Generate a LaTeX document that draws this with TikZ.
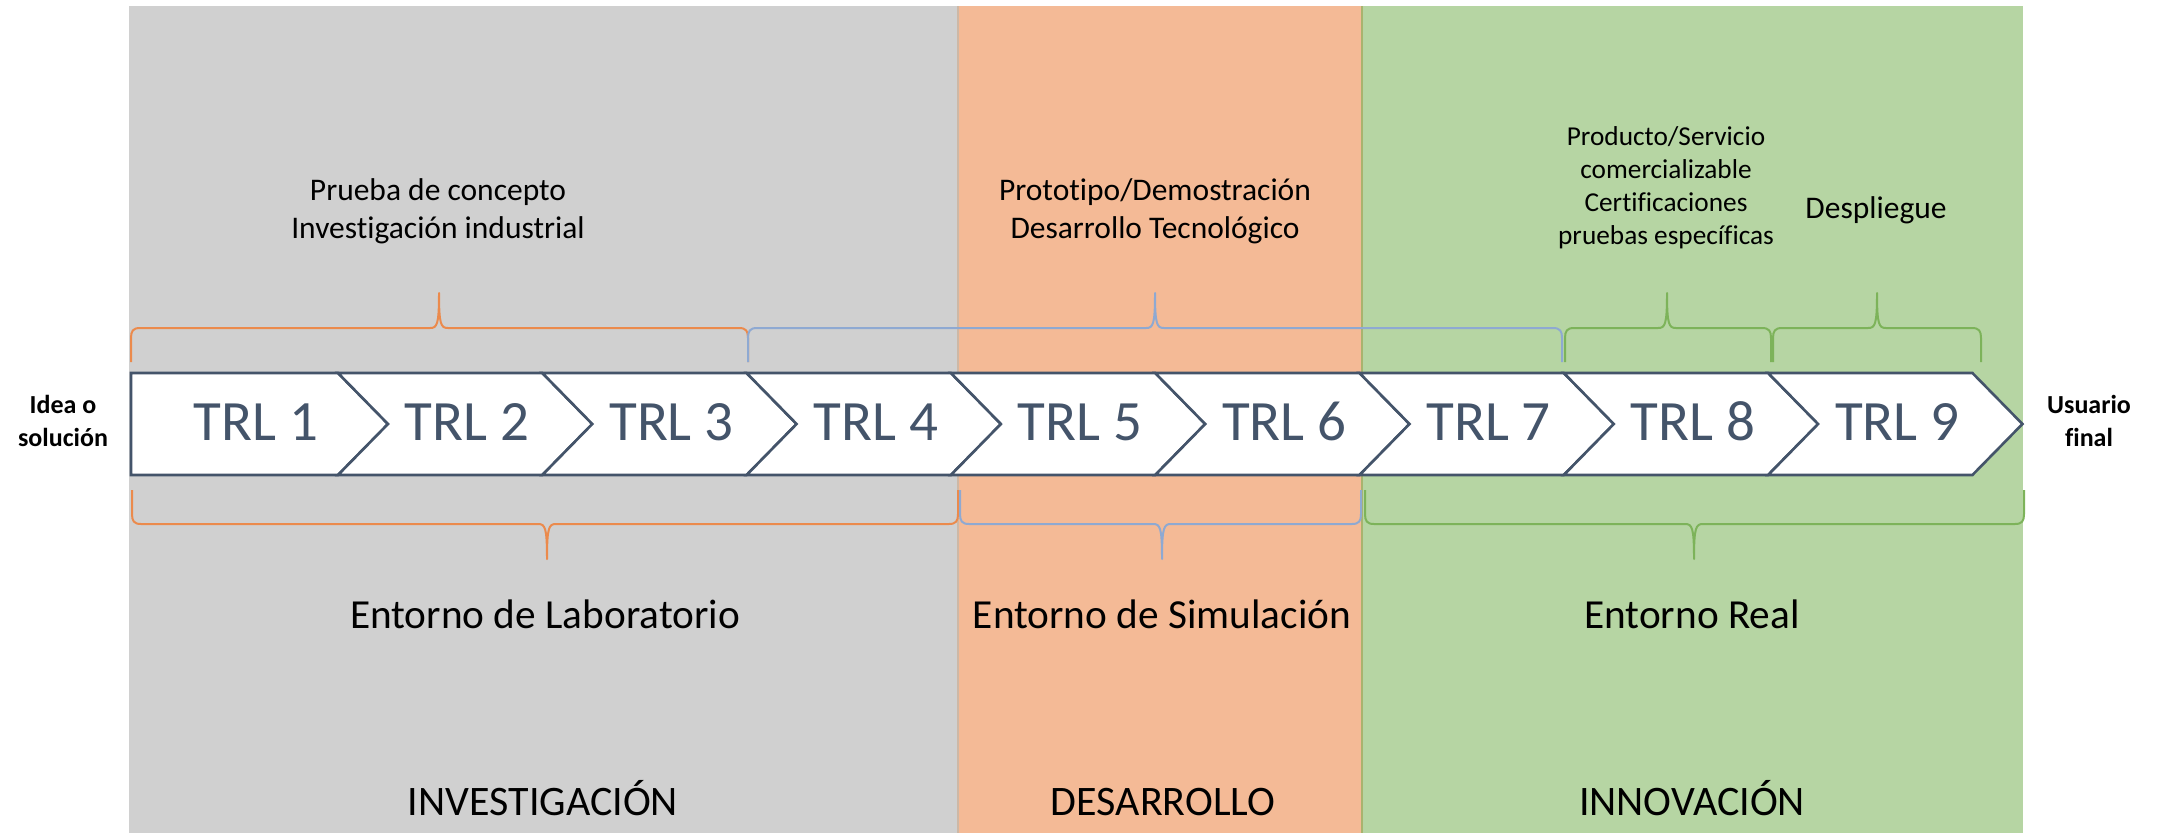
\documentclass[tikz,border=0pt]{standalone}
\usepackage{fontspec}
\setmainfont{Carlito}[Ligatures=NoCommon]
\definecolor{bgGray}{HTML}{D0D0D0}
\definecolor{bgOrange}{HTML}{F4BA96}
\definecolor{bgGreen}{HTML}{B6D5A3}
\definecolor{slate}{HTML}{44546A}
\definecolor{brOrange}{HTML}{EB8A4C}
\definecolor{brBlue}{HTML}{8EA9D2}
\definecolor{brGreen}{HTML}{7DB35A}
\definecolor{lineOlive}{HTML}{A9B36E}
\definecolor{lineTan}{HTML}{CDB8A6}
\newcommand\TopBrace[4]{%
  \draw[brace,#1] (#2,362) -- (#2,338) .. controls (#2,331) and (#2+2,328) .. (#2+9,328)
    -- (#3-9,328) .. controls (#3-2,328) and (#3,325) .. (#3,293)
    .. controls (#3,325) and (#3+2,328) .. (#3+9,328)
    -- (#4-9,328) .. controls (#4-2,328) and (#4,331) .. (#4,338) -- (#4,362);}
\newcommand\BotBrace[4]{%
  \draw[brace,#1] (#2,490) -- (#2,514) .. controls (#2,521) and (#2+2,524) .. (#2+9,524)
    -- (#3-9,524) .. controls (#3-2,524) and (#3,527) .. (#3,559)
    .. controls (#3,527) and (#3+2,524) .. (#3+9,524)
    -- (#4-9,524) .. controls (#4-2,524) and (#4,521) .. (#4,514) -- (#4,490);}
\begin{document}
\begin{tikzpicture}[x=1pt,y=-1pt,
  brace/.style={line width=2pt,line join=round},
  chev/.style={fill=white,draw=slate,line width=2.6pt,line join=miter},
  trl/.style={anchor=base,inner sep=0pt,text=slate,font=\fontsize{57}{68}\selectfont},
  side/.style={anchor=base,inner sep=0pt,font=\bfseries\fontsize{26}{32}\selectfont},
  upper/.style={anchor=base,inner sep=0pt,font=\fontsize{31.5}{38}\selectfont},
  small/.style={anchor=base,inner sep=0pt,font=\fontsize{27.3}{33}\selectfont},
  env/.style={anchor=base,inner sep=0pt,font=\fontsize{41.3}{47}\selectfont},
  phase/.style={anchor=base,inner sep=0pt,font=\fontsize{42}{47}\selectfont},
]
\useasboundingbox (0,0) rectangle (2159,833);
% background panels
\fill[bgGray] (129,6) rectangle (958,833);
\fill[bgOrange] (958,6) rectangle (1362,833);
\fill[bgGreen] (1362,6) rectangle (2023,833);
\draw[lineTan,line width=1.2pt] (958,6) -- (958,833);
\draw[lineOlive,line width=2.5pt] (1362,6) -- (1362,833);
% chevrons
\draw[chev] (131,373) -- (338,373) -- (388,424) -- (338,475) -- (131,475) -- cycle;
\foreach \L/\R in {338/542.3,542.3/746.6,746.6/950.9,950.9/1155.2,1155.2/1359.5,1359.5/1563.8,1563.8/1768.1,1768.1/1972.4}{
  \draw[chev] (\L,373) -- (\R,373) -- (\R+50,424) -- (\R,475) -- (\L,475) -- (\L+50,424) -- cycle;
}
\node[trl] (t1) at (256,440) {TRL 1};
\node[trl] (t2) at (467,440) {TRL 2};
\node[trl] (t3) at (671.5,440) {TRL 3};
\node[trl] (t4) at (875.8,440) {TRL 4};
\node[trl] (t5) at (1080,440) {TRL 5};
\node[trl] (t6) at (1284.4,440) {TRL 6};
\node[trl] (t7) at (1488.6,440) {TRL 7};
\node[trl] (t8) at (1693,440) {TRL 8};
\node[trl] (t9) at (1897.3,440) {TRL 9};
% side labels
\node[side] (idea1) at (63,413) {Idea o};
\node[side] (idea2) at (63,446) {solución};
\node[side] (usu1) at (2089,413) {Usuario};
\node[side] (usu2) at (2089,446) {final};
% braces
\TopBrace{brOrange}{131}{439}{748}
\TopBrace{brBlue}{748}{1155}{1562}
\TopBrace{brGreen}{1565}{1667}{1771}
\TopBrace{brGreen}{1773}{1877}{1981}
\BotBrace{brOrange}{132}{547}{958}
\BotBrace{brBlue}{960}{1162}{1361}
\BotBrace{brGreen}{1365}{1694}{2024}
% upper texts
\node[upper] (pc1) at (438,200) {Prueba de concepto};
\node[upper] (pc2) at (438,238) {Investigación industrial};
\node[upper] (pd1) at (1155,200) {Prototipo/Demostración};
\node[upper] (pd2) at (1155,238) {Desarrollo Tecnológico};
\node[small] (ps1) at (1666,145) {Producto/Servicio};
\node[small] (ps2) at (1666,178) {comercializable};
\node[small] (ps3) at (1666,211) {Certificaciones};
\node[small] (ps4) at (1666,244) {pruebas específicas};
\node[upper] (dep) at (1876,218) {Despliegue};
% environment labels
\node[env] (e1) at (545,628) {Entorno de Laboratorio};
\node[env] (e2) at (1162,628) {Entorno de Simulación};
\node[env] (e3) at (1692,628) {Entorno Real};
\node[phase] (p1) at (543,815) {INVESTIGACIÓN};
\node[phase] (p2) at (1163,815) {DESARROLLO};
\node[phase] (p3) at (1692,815) {INNOVACIÓN};
\end{tikzpicture}
\end{document}
